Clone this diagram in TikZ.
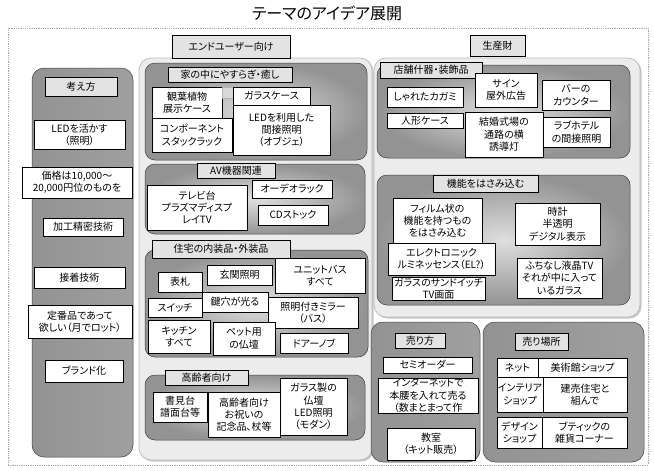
\documentclass[tikz,border=0pt]{standalone}
\usepackage{fontspec}
\setmainfont[RawFeature={+palt}]{Noto Sans CJK JP}
\usetikzlibrary{shadows}
\tikzset{
 itembox/.style={draw=black, line width=0.5pt, fill=white, align=center, inner sep=0.5pt,
   font=\fontsize{10}{12.3}\selectfont},
 grpbox/.style={draw=gray!50!black, line width=0.5pt, rounded corners=10pt,
   inner color=gray!25, outer color=gray!85, inner sep=0pt},
 contbox/.style={draw=gray!55, line width=0.7pt, rounded corners=12pt, fill=gray!15, inner sep=0pt,
   drop shadow={shadow xshift=1.5pt, shadow yshift=-1.5pt, fill=gray!45, opacity=1}},
 colbox/.style={draw=gray!50!black, line width=0.5pt, rounded corners=12pt, inner sep=0pt,
   left color=gray!85, middle color=gray!15, right color=gray!75},
 hdrbox/.style={draw=black, line width=0.6pt, fill=gray!22, align=center, inner sep=0.5pt,
   font=\fontsize{10}{12}\selectfont,
   drop shadow={shadow xshift=1.3pt, shadow yshift=-1.3pt, fill=black!75, opacity=1}},
 smallbox/.style={draw=gray!60, line width=0.4pt, fill=gray!30, inner sep=0pt},
 framebox/.style={draw=gray!70, densely dotted, line width=0.8pt, inner sep=0pt},
}
\newcommand{\mkbox}[7][itembox]{%
 \pgfmathsetmacro{\mybw}{#5-#3}%
 \pgfmathsetmacro{\mybh}{#6-#4}%
 \pgfmathsetmacro{\mybx}{(#3+#5)/2}%
 \pgfmathsetmacro{\myby}{(#4+#6)/2}%
 \node[#1, minimum width=\mybw pt, minimum height=\mybh pt] (#2) at (\mybx,\myby) {#7};}
\begin{document}
\begin{tikzpicture}[x=1pt,y=-1pt]
\fill[white] (0,0) rectangle (654,471);
\useasboundingbox (0,0) rectangle (654,471);
\node[font=\fontsize{16}{18}\selectfont] (title) at (327,13) {テーマのアイデア展開};
\mkbox[framebox]{frame}{8}{28}{648}{465}{}
% containers
\mkbox[colbox]{kangae}{32}{68}{133}{457}{}
\mkbox[contbox]{endc}{139}{58}{372}{460}{}
\mkbox[contbox]{seisanc}{374}{58}{640}{317}{}
\mkbox[colbox]{urikata}{371}{322}{480}{462}{}
\mkbox[colbox]{uriba}{483}{322}{644}{462}{}
% top headers
\mkbox[hdrbox]{endh}{172}{35}{290}{58}{エンドユーザー向け}
\mkbox[hdrbox]{seish}{470}{35}{525}{56}{生産財}
% left column
\mkbox[hdrbox]{kangaeh}{45}{77}{117}{96}{考え方}
\mkbox{k1}{34}{120}{125}{149}{LEDを活かす\\（照明）}
\mkbox{k2}{22}{167}{132}{198}{価格は10,000～\\20,000円位のものを}
\mkbox{k3}{43}{218}{123}{236}{加工精密技術}
\mkbox{k4}{34}{267}{125}{288}{接着技術}
\mkbox{k5}{28}{305}{132}{338}{定番品であって\\欲しい（月でロット）}
\mkbox{k6}{45}{360}{123}{382}{ブランド化}
% group 1
\mkbox[grpbox]{g1}{145}{63}{367}{160}{}
\mkbox[hdrbox]{g1h}{168}{67}{292}{82}{家の中にやすらぎ・癒し}
\mkbox{i11}{152}{87}{222}{118}{観葉植物\\展示ケース}
\mkbox[smallbox]{i1s}{222}{87}{233}{98}{}
\mkbox{i12}{233}{87}{310}{105}{ガラスケース}
\mkbox{i13}{152}{118}{232}{152}{コンポーネント\\スタックラック}
\mkbox{i14}{233}{105}{330}{155}{LEDを利用した\\間接照明\\（オブジェ）}
% group 2
\mkbox[grpbox]{g2}{145}{164}{365}{234}{}
\mkbox[hdrbox]{g2h}{197}{163}{275}{178}{AV機器関連}
\mkbox{i21}{147}{185}{247}{230}{テレビ台\\プラズマディスプ\\レイTV}
\mkbox{i22}{252}{180}{332}{198}{オーデオラック}
\mkbox{i23}{258}{205}{328}{225}{CDストック}
% group 3
\mkbox[grpbox]{g3}{145}{250}{368}{357}{}
\mkbox[hdrbox]{g3h}{152}{240}{290}{258}{住宅の内装品・外装品}
\mkbox{i31}{158}{272}{202}{292}{表札}
\mkbox{i32}{207}{265}{272}{285}{玄関照明}
\mkbox{i33}{275}{258}{365}{293}{ユニットバス\\すべて}
\mkbox{i34}{148}{298}{202}{317}{スイッチ}
\mkbox{i35}{202}{292}{268}{312}{鍵穴が光る}
\mkbox{i36}{268}{297}{358}{328}{照明付きミラー\\（バス）}
\mkbox{i37}{148}{320}{210}{353}{キッチン\\すべて}
\mkbox{i38}{213}{322}{275}{355}{ペット用\\の仏壇}
\mkbox{i39}{280}{333}{348}{353}{ドアーノブ}
% group 4
\mkbox[grpbox]{g4}{145}{375}{365}{440}{}
\mkbox[hdrbox]{g4h}{165}{370}{248}{385}{高齢者向け}
\mkbox{i41}{153}{392}{207}{422}{書見台\\譜面台等}
\mkbox{i42}{208}{392}{280}{437}{高齢者向け\\お祝いの\\記念品、杖等}
\mkbox{i43}{280}{378}{347}{435}{ガラス製の\\仏壇\\LED照明\\（モダン）}
% group 5
\mkbox[grpbox]{g5}{377}{65}{630}{158}{}
\mkbox[hdrbox]{g5h}{380}{62}{482}{78}{店舗什器・装飾品}
\mkbox{i51}{387}{87}{463}{107}{しゃれたカガミ}
\mkbox{i52}{475}{73}{537}{107}{サイン\\屋外広告}
\mkbox{i53}{542}{80}{610}{110}{バーの\\カウンター}
\mkbox{i54}{387}{113}{463}{128}{人形ケース}
\mkbox{i55}{465}{112}{543}{157}{結婚式場の\\通路の横\\誘導灯}
\mkbox{i56}{543}{117}{610}{147}{ラブホテル\\の間接照明}
% group 6
\mkbox[grpbox]{g6}{377}{175}{630}{305}{}
\mkbox[hdrbox]{g6h}{433}{175}{538}{192}{機能をはさみ込む}
\mkbox{i61}{393}{198}{482}{243}{フィルム状の\\機能を持つもの\\をはさみ込む}
\mkbox{i62}{515}{203}{600}{245}{時計\\半透明\\デジタル表示}
\mkbox{i63}{388}{243}{495}{275}{エレクトロニック\\ルミネッセンス（EL?）}
\mkbox{i64}{392}{277}{485}{300}{ガラスのサンドイッチ\\TV画面}
\mkbox{i65}{517}{258}{602}{298}{ふちなし液晶TV\\それが中に入って\\いるガラス}
% 売り方
\mkbox[hdrbox]{ukh}{395}{333}{445}{348}{売り方}
\mkbox{u1}{383}{357}{472}{373}{セミオーダー}
\mkbox{u2}{378}{378}{478}{413}{インターネットで\\本腰を入れて売る\\（数まとまって作}
\mkbox{u3}{387}{428}{475}{460}{教室\\（キット販売）}
% 売り場所
\mkbox[hdrbox]{ubh}{515}{333}{568}{350}{売り場所}
\mkbox{b1}{497}{358}{538}{377}{ネット}
\mkbox{b2}{538}{358}{627}{377}{美術館ショップ}
\mkbox{b3}{497}{377}{543}{412}{インテリア\\ショップ}
\mkbox{b4}{543}{377}{627}{412}{建売住宅と\\組んで}
\mkbox{b5}{497}{417}{542}{448}{デザイン\\ショップ}
\mkbox{b6}{542}{417}{627}{448}{ブティックの\\雑貨コーナー}
\end{tikzpicture}
\end{document}
